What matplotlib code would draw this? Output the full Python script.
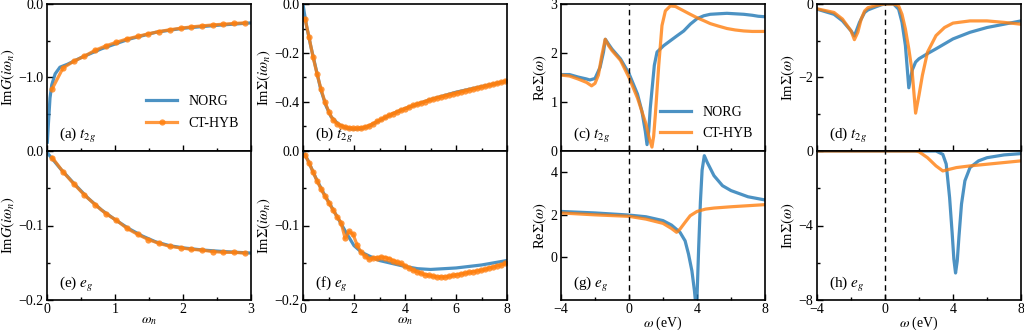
import matplotlib
matplotlib.use("Agg")
import matplotlib.pyplot as plt
from matplotlib.ticker import MultipleLocator

plt.rcParams["font.family"] = ["Liberation Serif", "DejaVu Serif"]
plt.rcParams["mathtext.fontset"] = "stix"
plt.rcParams["font.size"] = 10
plt.rcParams["axes.unicode_minus"] = True

# ---- Matsubara frequencies (beta = 40) ----
wn = [0.0785, 0.2356, 0.3927, 0.5498, 0.7069, 0.8639, 1.0210, 1.1781, 1.3352,
      1.4923, 1.6493, 1.8064, 1.9635, 2.1206, 2.2777, 2.4347, 2.5918, 2.7489,
      2.9060, 3.0631, 3.2201, 3.3772, 3.5343, 3.6914, 3.8485, 4.0055, 4.1626,
      4.3197, 4.4768, 4.6338, 4.7909, 4.9480, 5.1051, 5.2622, 5.4192, 5.5763,
      5.7334, 5.8905, 6.0476, 6.2046, 6.3617, 6.5188, 6.6759, 6.8330, 6.9900,
      7.1471, 7.3042, 7.4613, 7.6184, 7.7754, 7.9325]
wn_short = wn[:19]

# (a) ImG t2g
a_norg_x = [0.005, 0.02, 0.044, 0.07, 0.12, 0.19, 0.3, 0.5, 0.8, 1.2, 1.6, 2.0, 2.5, 3.0]
a_norg_y = [-1.88, -1.64, -1.28, -1.10, -0.95, -0.86, -0.82, -0.73, -0.61, -0.48,
            -0.385, -0.33, -0.29, -0.257]
a_ctqmc_y = [-1.15, -0.87, -0.78, -0.71, -0.63, -0.57, -0.52, -0.475, -0.44, -0.405,
             -0.375, -0.35, -0.33, -0.312, -0.298, -0.285, -0.275, -0.265, -0.257]

# (e) ImG eg
e_norg_x = [0.0, 0.2, 0.4, 0.6, 0.8, 1.0, 1.2, 1.4, 1.6, 1.8, 2.0, 2.3, 2.6, 3.0]
e_norg_y = [-0.002, -0.024, -0.044, -0.063, -0.079, -0.092, -0.104, -0.114, -0.122,
            -0.127, -0.130, -0.133, -0.135, -0.137]
e_ctqmc_y = [-0.009, -0.028, -0.044, -0.059, -0.072, -0.084, -0.093, -0.104, -0.112,
             -0.119, -0.124, -0.128, -0.130, -0.132, -0.133, -0.135, -0.136, -0.136,
             -0.137]

# (b) ImSigma t2g
b_norg_x = [0.0, 0.05, 0.15, 0.3, 0.5, 0.7, 0.9, 1.1, 1.4, 1.7, 2.0, 2.3, 2.6, 3.0,
            3.5, 4.0, 5.0, 6.0, 7.0, 8.0]
b_norg_y = [0.0, -0.035, -0.095, -0.17, -0.26, -0.35, -0.415, -0.46, -0.492, -0.506,
            -0.511, -0.508, -0.498, -0.476, -0.449, -0.427, -0.39, -0.36, -0.337, -0.315]
b_ctqmc_y = [-0.060, -0.135, -0.216, -0.285, -0.348, -0.401, -0.442, -0.473, -0.488,
             -0.497, -0.502, -0.505, -0.507, -0.507, -0.505, -0.502, -0.496, -0.488,
             -0.479, -0.471, -0.462, -0.454, -0.447, -0.440, -0.433, -0.427, -0.420,
             -0.414, -0.408, -0.403, -0.398, -0.393, -0.388, -0.383, -0.379, -0.375,
             -0.371, -0.367, -0.363, -0.359, -0.355, -0.351, -0.347, -0.343, -0.339,
             -0.335, -0.331, -0.327, -0.323, -0.319, -0.315]

# (f) ImSigma eg
f_norg_x = [0.0, 0.2, 0.5, 0.8, 1.1, 1.4, 1.7, 2.0, 2.3, 2.6, 3.0, 3.5, 4.0, 4.5,
            5.0, 5.5, 6.0, 6.5, 7.0, 7.5, 8.0]
f_norg_y = [0.0, -0.013, -0.036, -0.056, -0.074, -0.092, -0.110, -0.127, -0.136,
            -0.141, -0.147, -0.151, -0.155, -0.158, -0.159, -0.158, -0.157, -0.155,
            -0.153, -0.150, -0.147]
f_ctqmc_y = [-0.005, -0.016, -0.028, -0.040, -0.051, -0.061, -0.070, -0.079, -0.088,
             -0.096, -0.117, -0.108, -0.112, -0.126, -0.136, -0.141, -0.145, -0.144,
             -0.143, -0.1425, -0.143, -0.1445, -0.147, -0.149, -0.151, -0.154, -0.157,
             -0.160, -0.162, -0.164, -0.166, -0.167, -0.168, -0.169, -0.169, -0.169,
             -0.168, -0.167, -0.166, -0.165, -0.164, -0.163, -0.162, -0.161, -0.160,
             -0.159, -0.157, -0.156, -0.154, -0.153, -0.151]

# (c) ReSigma t2g (real axis)
c_norg_x = [-4, -3.5, -3, -2.5, -2.3, -2, -1.7, -1.5, -1.39, -1.2, -1.0, -0.5, 0, 0.5,
            0.76, 0.96, 1.06, 1.16, 1.25, 1.49, 1.65, 2.04, 2.43, 2.82, 3.22, 3.61,
            4.0, 4.4, 4.78, 5.25, 5.76, 6.25, 6.75, 7.25, 7.6, 8.0]
c_norg_y = [1.56, 1.56, 1.51, 1.47, 1.45, 1.48, 1.71, 2.02, 2.28, 2.18, 2.08, 1.88,
            1.58, 1.16, 0.81, 0.40, 0.13, 0.40, 0.87, 1.75, 2.02, 2.15, 2.25, 2.35,
            2.45, 2.59, 2.70, 2.76, 2.79, 2.80, 2.81, 2.80, 2.79, 2.77, 2.75, 2.74]
c_ctqmc_x = [-4, -3.5, -3, -2.5, -2.2, -2, -1.8, -1.6, -1.4, -1.2, -1.0, -0.5, 0, 0.5,
             1.0, 1.2, 1.35, 1.45, 1.55, 1.75, 1.94, 2.14, 2.43, 2.73, 3.0, 3.22, 3.6,
             4.0, 4.4, 4.78, 5.25, 5.76, 6.25, 6.75, 7.25, 8.0]
c_ctqmc_y = [1.55, 1.53, 1.47, 1.40, 1.33, 1.38, 1.55, 1.95, 2.28, 2.15, 2.05, 1.85,
             1.50, 1.08, 0.55, 0.25, 0.08, 0.30, 0.74, 1.75, 2.56, 2.86, 2.96, 2.95,
             2.90, 2.86, 2.79, 2.72, 2.66, 2.60, 2.55, 2.50, 2.47, 2.45, 2.44, 2.44]

# (d) ImSigma t2g (real axis)
d_norg_x = [-4, -3, -2.5, -2, -1.8, -1.5, -1.2, -1.0, -0.5, -0.2, 0, 0.5, 0.8, 1.0,
            1.2, 1.4, 1.6, 1.8, 2.0, 2.5, 3.0, 4.0, 5.0, 6.0, 7.0, 8.0]
d_norg_y = [-0.14, -0.28, -0.46, -0.73, -0.87, -0.50, -0.23, -0.16, -0.07, -0.02, 0.0,
            0.0, -0.14, -0.50, -1.13, -2.28, -1.80, -1.58, -1.49, -1.35, -1.22, -0.95,
            -0.77, -0.64, -0.55, -0.46]
d_ctqmc_x = [-4, -3, -2.5, -2, -1.8, -1.6, -1.4, -1.2, -1.0, -0.5, -0.2, 0, 0.5, 0.8,
             1.0, 1.2, 1.4, 1.6, 1.8, 2.0, 2.2, 2.5, 3.0, 3.5, 4.0, 5.0, 6.0, 7.0, 8.0]
d_ctqmc_y = [-0.13, -0.23, -0.41, -0.73, -0.97, -0.77, -0.41, -0.19, -0.10, -0.04,
             -0.01, 0.0, 0.0, -0.05, -0.28, -0.68, -1.22, -1.85, -2.97, -2.48, -1.94,
             -1.31, -0.86, -0.64, -0.52, -0.46, -0.46, -0.50, -0.55]

# (g) ReSigma eg
g_norg_x = [-4, -2, 0, 1, 2, 2.5, 3.0, 3.3, 3.5, 3.7, 3.85, 3.95, 4.0, 4.1, 4.2, 4.3,
            4.43, 4.6, 5.0, 5.5, 6.0, 7.0, 8.0]
g_norg_y = [2.16, 2.09, 1.99, 1.91, 1.73, 1.52, 1.18, 0.78, 0.16, -0.63, -1.57, -2.4,
            -1.9, 0.5, 2.6, 4.1, 4.78, 4.47, 3.84, 3.37, 3.14, 2.85, 2.70]
g_ctqmc_x = [-4, -2, 0, 1, 2, 2.5, 2.8, 3.0, 3.3, 3.6, 4.0, 4.5, 5.0, 6.0, 7.0, 8.0]
g_ctqmc_y = [2.09, 2.00, 1.93, 1.80, 1.60, 1.36, 1.18, 1.33, 1.65, 1.96, 2.16, 2.27,
             2.32, 2.38, 2.43, 2.48]

# (h) ImSigma eg
h_norg_x = [-4, 0, 3.0, 3.4, 3.6, 3.8, 3.95, 4.05, 4.15, 4.25, 4.35, 4.5, 4.7, 5.0,
            5.5, 6.0, 7.0, 8.0]
h_norg_y = [0.0, 0.0, 0.0, -0.18, -0.7, -2.5, -4.4, -5.8, -6.55, -5.9, -4.6, -2.85,
            -1.6, -0.89, -0.53, -0.36, -0.21, -0.14]
h_ctqmc_x = [-4, 0, 1.8, 2.0, 2.5, 3.0, 3.4, 3.8, 4.2, 5.0, 6.0, 7.0, 8.0]
h_ctqmc_y = [0.0, 0.0, 0.0, -0.04, -0.36, -0.80, -1.07, -0.98, -0.89, -0.80, -0.71,
             -0.62, -0.53]

BLUE = "#1f77b4"
ORANGE = "#ff7f0e"
ALPHA = 0.8
LW = 2.3


def style(ax, xmaj, xmin, ymaj, ylab, ymin, show_x):
    ax.xaxis.set_major_locator(MultipleLocator(xmaj))
    ax.xaxis.set_minor_locator(MultipleLocator(xmin))
    ax.set_yticks(ymaj, labels=ylab)
    if ymin:
        ax.set_yticks(ymin, minor=True)
    ax.tick_params(which="both", direction="in", width=1.0, labelsize=10, pad=2.5)
    ax.tick_params(axis="x", pad=2)
    ax.tick_params(which="major", length=4)
    ax.tick_params(which="minor", length=2.5)
    if not show_x:
        ax.tick_params(axis="x", labelbottom=False)
    for s in ax.spines.values():
        s.set_linewidth(1.2)


def labels(ax, ylabel, xlabel=None):
    ax.set_ylabel(ylabel, fontsize=10.5, labelpad=1)
    if xlabel:
        ax.set_xlabel(xlabel, fontsize=10, labelpad=-1)


fig = plt.figure(figsize=(10.24, 3.30), dpi=100)
lefts = [47, 303, 561, 817]
W = 204 / 1024
axes = {}
names = [["a", "b", "c", "d"], ["e", "f", "g", "h"]]
for r, (y0, h) in enumerate([(179, 147), (30, 149)]):
    for c, l in enumerate(lefts):
        axes[names[r][c]] = fig.add_axes([l / 1024, y0 / 330, W, h / 330])

mk = dict(marker="o", markersize=4.5, markeredgewidth=0)
leg = dict(loc="lower right", frameon=False, fontsize=10, handlelength=2.2,
           labelspacing=0.6)

# (a)
ax = axes["a"]
ax.plot(a_norg_x, a_norg_y, color=BLUE, lw=LW, alpha=ALPHA, label="NORG")
ax.plot(wn_short, a_ctqmc_y, color=ORANGE, lw=LW, alpha=ALPHA, label="CT-HYB", **mk)
ax.set_xlim(0, 3)
ax.set_ylim(-2, 0)
style(ax, 1, 0.5, [-1, 0], ["\u22121.0", "0.0"], [-1.5, -0.5], False)
labels(ax, r"Im$G(i\omega_n)$")
ax.legend(bbox_to_anchor=(1.0, 0.06), **leg)

# (e)
ax = axes["e"]
ax.plot(e_norg_x, e_norg_y, color=BLUE, lw=LW, alpha=ALPHA)
ax.plot(wn_short, e_ctqmc_y, color=ORANGE, lw=LW, alpha=ALPHA, **mk)
ax.set_xlim(0, 3)
ax.set_ylim(-0.2, 0)
style(ax, 1, 0.5, [-0.2, -0.1, 0], ["\u22120.2", "\u22120.1", "0.0"], [-0.15, -0.05], True)
labels(ax, r"Im$G(i\omega_n)$", r"$\omega_n$")

# (b)
ax = axes["b"]
ax.plot(b_norg_x, b_norg_y, color=BLUE, lw=LW, alpha=ALPHA)
ax.plot(wn, b_ctqmc_y, color=ORANGE, lw=LW, alpha=ALPHA, **mk)
ax.set_xlim(0, 8)
ax.set_ylim(-0.6, 0)
style(ax, 2, 1, [-0.4, -0.2, 0], ["\u22120.4", "\u22120.2", "0.0"], [-0.5, -0.3, -0.1], False)
labels(ax, r"Im$\Sigma(i\omega_n)$")

# (f)
ax = axes["f"]
ax.plot(f_norg_x, f_norg_y, color=BLUE, lw=LW, alpha=ALPHA)
ax.plot(wn, f_ctqmc_y, color=ORANGE, lw=LW, alpha=ALPHA, **mk)
ax.set_xlim(0, 8)
ax.set_ylim(-0.2, 0)
style(ax, 2, 1, [-0.2, -0.1, 0], ["\u22120.2", "\u22120.1", "0.0"], [-0.15, -0.05], True)
labels(ax, r"Im$\Sigma(i\omega_n)$", r"$\omega_n$")

# (c)
ax = axes["c"]
ax.plot(c_norg_x, c_norg_y, color=BLUE, lw=LW, alpha=ALPHA, label="NORG")
ax.plot(c_ctqmc_x, c_ctqmc_y, color=ORANGE, lw=LW, alpha=ALPHA, label="CT-HYB")
ax.set_xlim(-4, 8)
ax.set_ylim(0, 3)
style(ax, 4, 2, [0, 1, 2, 3], ["0", "1", "2", "3"], None, False)
labels(ax, r"Re$\Sigma(\omega)$")
ax.legend(bbox_to_anchor=(1.0, -0.01), **leg)

# (g)
ax = axes["g"]
ax.plot(g_norg_x, g_norg_y, color=BLUE, lw=LW, alpha=ALPHA)
ax.plot(g_ctqmc_x, g_ctqmc_y, color=ORANGE, lw=LW, alpha=ALPHA)
ax.set_xlim(-4, 8)
ax.set_ylim(-2, 5)
style(ax, 4, 2, [0, 2, 4], ["0", "2", "4"], None, True)
labels(ax, r"Re$\Sigma(\omega)$", r"$\omega$ (eV)")

# (d)
ax = axes["d"]
ax.plot(d_norg_x, d_norg_y, color=BLUE, lw=LW, alpha=ALPHA)
ax.plot(d_ctqmc_x, d_ctqmc_y, color=ORANGE, lw=LW, alpha=ALPHA)
ax.set_xlim(-4, 8)
ax.set_ylim(-4, 0)
style(ax, 4, 2, [-2, 0], ["\u22122", "0"], [-3, -1], False)
labels(ax, r"Im$\Sigma(\omega)$")

# (h)
ax = axes["h"]
ax.plot(h_norg_x, h_norg_y, color=BLUE, lw=LW, alpha=ALPHA)
ax.plot(h_ctqmc_x, h_ctqmc_y, color=ORANGE, lw=LW, alpha=ALPHA)
ax.set_xlim(-4, 8)
ax.set_ylim(-8, 0)
style(ax, 4, 2, [-8, -4, 0], ["\u22128", "\u22124", "0"], [-6, -2], True)
labels(ax, r"Im$\Sigma(\omega)$", r"$\omega$ (eV)")

for k in "cdgh":
    axes[k].axvline(0, color="black", lw=1.0, ls=(0, (4, 3)))

tags = {"a": r"(a) $t_{2g}$", "b": r"(b) $t_{2g}$", "c": r"(c) $t_{2g}$",
        "d": r"(d) $t_{2g}$", "e": r"(e) $e_g$", "f": r"(f) $e_g$",
        "g": r"(g) $e_g$", "h": r"(h) $e_g$"}
for k, t in tags.items():
    axes[k].text(0.06, 0.04, t, transform=axes[k].transAxes, fontsize=11,
                 ha="left", va="bottom")

fig.savefig("out.png", dpi=100)
